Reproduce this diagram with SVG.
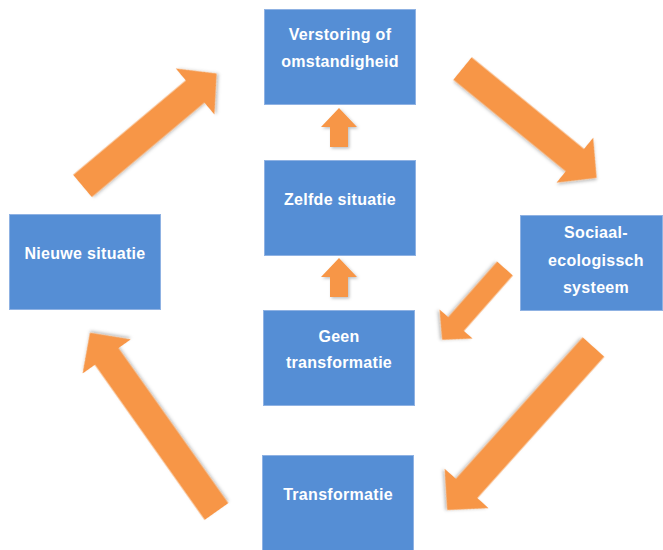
<svg xmlns="http://www.w3.org/2000/svg" width="663" height="550" viewBox="0 0 663 550">
<style>
.box{fill:#558ED5;stroke:#8FB2E3;stroke-width:1}
.lbl{fill:#FFFFFF;font-family:"Liberation Sans",Arial,sans-serif;font-weight:bold;font-size:16px;letter-spacing:0.3px;text-anchor:middle}
.arr{fill:#F79646;filter:url(#sh)}
</style>
<defs>
<filter id="sh" x="-20%" y="-20%" width="140%" height="140%">
<feDropShadow dx="1.5" dy="1.5" stdDeviation="1.5" flood-color="#000" flood-opacity="0.25"/>
</filter>
</defs>
<rect width="663" height="550" fill="#FFFFFF"/>
<g id="connectors">
<polygon class="arr" transform="translate(82.5,186) rotate(-40)" points="0,-14.5 147,-14.5 147,-30 175,0 147,30 147,14.5 0,14.5"/>
<polygon class="arr" transform="translate(462.5,68.5) rotate(39.2)" points="0,-14.5 145,-14.5 145,-29 173,0 145,29 145,14.5 0,14.5"/>
<polygon class="arr" transform="translate(505,268.5) rotate(131.4)" points="0,-10.5 74,-10.5 74,-22 95,0 74,22 74,10.5 0,10.5"/>
<polygon class="arr" transform="translate(593.5,347) rotate(131.9)" points="0,-14.5 190,-14.5 190,-29.5 219,0 190,29.5 190,14.5 0,14.5"/>
<polygon class="arr" transform="translate(216.5,511.5) rotate(-125.3)" points="0,-14.5 190,-14.5 190,-29.5 219,0 190,29.5 190,14.5 0,14.5"/>
<polygon class="arr" points="330,147 330,127 321,127 339,108 357,127 348,127 348,147"/>
<polygon class="arr" points="330,297 330,277 321,277 339,258 357,277 348,277 348,297"/>
</g>
<g id="verstoring">
<rect class="box" x="264.5" y="9.5" width="151" height="95"/>
<text class="lbl" x="340" y="40">Verstoring of</text>
<text class="lbl" x="340" y="67">omstandigheid</text>
</g>
<g id="zelfde">
<rect class="box" x="264.5" y="160.5" width="151" height="95"/>
<text class="lbl" x="340" y="205">Zelfde situatie</text>
</g>
<g id="geen">
<rect class="box" x="263.5" y="310.5" width="151" height="95"/>
<text class="lbl" x="339" y="342">Geen</text>
<text class="lbl" x="339" y="368">transformatie</text>
</g>
<g id="transformatie">
<rect class="box" x="262.5" y="455.5" width="151" height="96"/>
<text class="lbl" x="338" y="500">Transformatie</text>
</g>
<g id="nieuwe">
<rect class="box" x="9.5" y="214.5" width="151" height="95"/>
<text class="lbl" x="85" y="259">Nieuwe situatie</text>
</g>
<g id="sociaal">
<rect class="box" x="520.5" y="215.5" width="142" height="95"/>
<text class="lbl" x="596" y="238">Sociaal-</text>
<text class="lbl" x="596" y="266">ecologissch</text>
<text class="lbl" x="596" y="293">systeem</text>
</g>
</svg>
